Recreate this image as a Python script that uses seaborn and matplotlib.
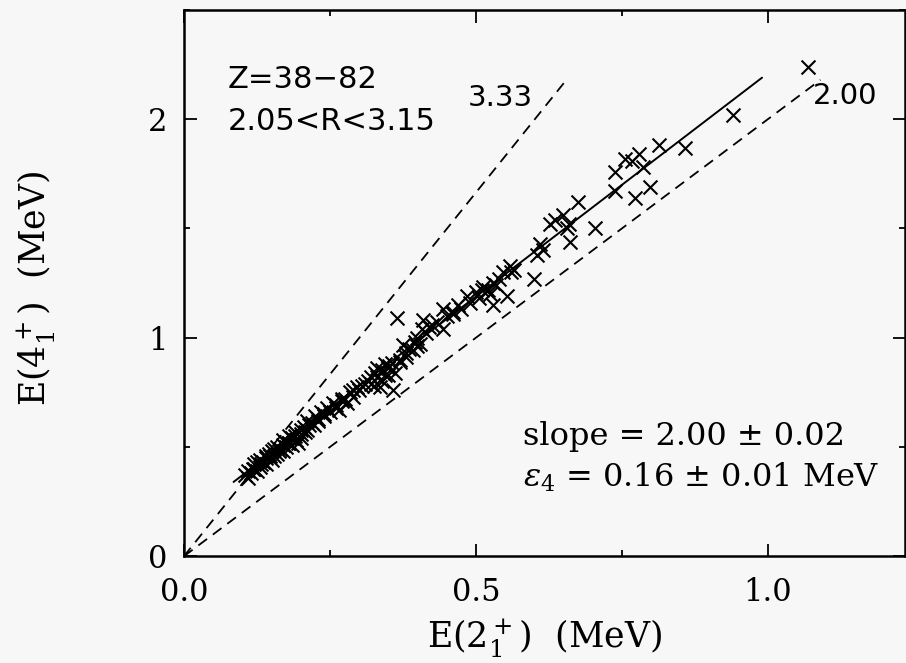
import numpy as np
import pandas as pd
import seaborn as sns
import matplotlib
matplotlib.use("Agg")
import matplotlib.pyplot as plt
from matplotlib.ticker import MultipleLocator

# E(2+) and E(4+) energies (MeV)
e2 = [0.105, 0.11, 0.115, 0.12, 0.12, 0.125, 0.13, 0.13, 0.135, 0.14,
      0.14, 0.145, 0.15, 0.15, 0.155, 0.16, 0.16, 0.165, 0.17, 0.17,
      0.175, 0.18, 0.18, 0.185, 0.19, 0.19, 0.195, 0.20, 0.20, 0.205,
      0.21, 0.21, 0.215, 0.22, 0.225, 0.23, 0.235, 0.24, 0.245, 0.25,
      0.255, 0.26, 0.265, 0.27, 0.275, 0.28, 0.285, 0.29, 0.296, 0.30,
      0.31, 0.315, 0.32, 0.325, 0.33, 0.33, 0.335, 0.34, 0.34, 0.345,
      0.35, 0.35, 0.356, 0.358, 0.361, 0.365, 0.37, 0.375, 0.38, 0.381,
      0.385, 0.392, 0.395, 0.40, 0.405, 0.407, 0.41, 0.415, 0.42, 0.425,
      0.433, 0.443, 0.443, 0.45, 0.46, 0.47, 0.475, 0.484, 0.49, 0.50,
      0.505, 0.512, 0.52, 0.525, 0.529, 0.529, 0.535, 0.54, 0.546, 0.553,
      0.558, 0.565, 0.60, 0.605, 0.61, 0.615, 0.627, 0.635, 0.649, 0.656,
      0.661, 0.66, 0.675, 0.704, 0.738, 0.738, 0.755, 0.767, 0.772, 0.78,
      0.786, 0.798, 0.813, 0.858, 0.94, 1.068,
      0.11, 0.125, 0.14, 0.155, 0.17, 0.185, 0.2, 0.23, 0.26, 0.29,
      0.32, 0.345, 0.37, 0.40, 0.46, 0.51, 0.56,
      0.118, 0.132, 0.148, 0.162, 0.178, 0.192, 0.208, 0.222, 0.24, 0.27,
      0.305, 0.328, 0.352]
e4 = [0.37, 0.39, 0.38, 0.40, 0.42, 0.39, 0.41, 0.44, 0.43, 0.42,
      0.45, 0.47, 0.44, 0.48, 0.46, 0.50, 0.47, 0.49, 0.51, 0.53,
      0.50, 0.55, 0.52, 0.54, 0.57, 0.55, 0.52, 0.58, 0.56, 0.59,
      0.62, 0.58, 0.60, 0.61, 0.64, 0.62, 0.66, 0.64, 0.68, 0.66,
      0.70, 0.69, 0.67, 0.71, 0.72, 0.70, 0.75, 0.73, 0.775, 0.76,
      0.79, 0.80, 0.82, 0.78, 0.82, 0.86, 0.775, 0.853, 0.80, 0.88,
      0.86, 0.83, 0.885, 0.76, 0.84, 1.09, 0.90, 0.968, 0.93, 0.91,
      0.95, 0.945, 0.98, 1.00, 0.97, 1.04, 1.08, 1.02, 1.05, 1.06,
      1.07, 1.04, 1.13, 1.10, 1.11, 1.15, 1.13, 1.19, 1.16, 1.21,
      1.18, 1.23, 1.22, 1.20, 1.25, 1.15, 1.24, 1.27, 1.30, 1.19,
      1.33, 1.31, 1.27, 1.38, 1.43, 1.40, 1.52, 1.54, 1.56, 1.50,
      1.44, 1.52, 1.62, 1.50, 1.76, 1.67, 1.82, 1.81, 1.64, 1.84,
      1.78, 1.69, 1.88, 1.87, 2.02, 2.24,
      0.36, 0.43, 0.46, 0.49, 0.48, 0.51, 0.54, 0.63, 0.68, 0.76,
      0.79, 0.83, 0.89, 0.96, 1.12, 1.22, 1.30,
      0.40, 0.42, 0.46, 0.48, 0.52, 0.53, 0.57, 0.60, 0.65, 0.72,
      0.78, 0.84, 0.87]

# fitted line and reference ratio lines
fit_x = [0.085, 0.99]
fit_y = [0.34, 2.19]
r333_x = [0.0, 0.655]
r333_y = [0.0, 2.18]
r200_x = [0.0, 1.09]
r200_y = [0.0, 2.18]

df = pd.DataFrame({"e2": e2, "e4": e4})

sns.set_style("ticks")
plt.rcParams["font.family"] = ["DejaVu Serif"]
plt.rcParams["mathtext.fontset"] = "dejavuserif"
for key in ["text.color", "axes.labelcolor", "xtick.color", "ytick.color",
            "axes.edgecolor"]:
    plt.rcParams[key] = "black"

bg = "#f7f7f7"
fig = plt.figure(figsize=(9.06, 6.63), dpi=100, facecolor=bg)
ax = fig.add_axes([0.203, 0.161, 0.796, 0.824])
ax.set_facecolor(bg)

ax.plot(r333_x, r333_y, color="black", lw=1.3, ls=(0, (6, 4)))
ax.plot(r200_x, r200_y, color="black", lw=1.3, ls=(0, (6, 4)))
ax.plot(fit_x, fit_y, color="black", lw=1.4)

sns.scatterplot(data=df, x="e2", y="e4", marker="x", s=100, color="black",
                linewidth=1.5, ax=ax, legend=False)

ax.set_xlim(0, 1.235)
ax.set_ylim(0, 2.5)
ax.set_xticks([0.0, 0.5, 1.0])
ax.set_xticklabels(["0.0", "0.5", "1.0"])
ax.set_yticks([0, 1, 2])
ax.set_yticklabels(["0", "1", "2"])
ax.xaxis.set_minor_locator(MultipleLocator(0.25))
ax.yaxis.set_minor_locator(MultipleLocator(0.5))
ax.tick_params(which="both", direction="in", top=True, right=True,
               width=1.3, labelsize=22)
ax.tick_params(which="major", length=9)
ax.tick_params(which="minor", length=4)
ax.tick_params(axis="x", pad=15)
ax.tick_params(axis="y", pad=12)
for sp in ax.spines.values():
    sp.set_linewidth(1.8)

ax.set_xlabel(r"E$(2_1^+)$  (MeV)", fontsize=25)
ax.set_ylabel(r"E$(4_1^+)$  (MeV)", fontsize=25)
ax.xaxis.set_label_coords(0.5, -0.11)
ax.yaxis.set_label_coords(-0.175, 0.49)

ax.text(0.061, 0.872, "Z=38\u221282", transform=ax.transAxes, fontsize=22,
        family="DejaVu Sans", va="center")
ax.text(0.061, 0.795, "2.05<R<3.15", transform=ax.transAxes, fontsize=22,
        family="DejaVu Sans", va="center")
ax.text(0.393, 0.838, "3.33", transform=ax.transAxes, fontsize=21,
        family="DejaVu Sans", va="center")
ax.text(0.872, 0.842, "2.00", transform=ax.transAxes, fontsize=21,
        family="DejaVu Sans", va="center")
ax.text(0.47, 0.22, "slope = 2.00 \u00b1 0.02", transform=ax.transAxes,
        fontsize=23, va="center")
ax.text(0.47, 0.145, r"$\epsilon_4$ = 0.16 $\pm$ 0.01 MeV",
        transform=ax.transAxes, fontsize=23, va="center")

fig.savefig("out.png", dpi=100, facecolor=bg)
